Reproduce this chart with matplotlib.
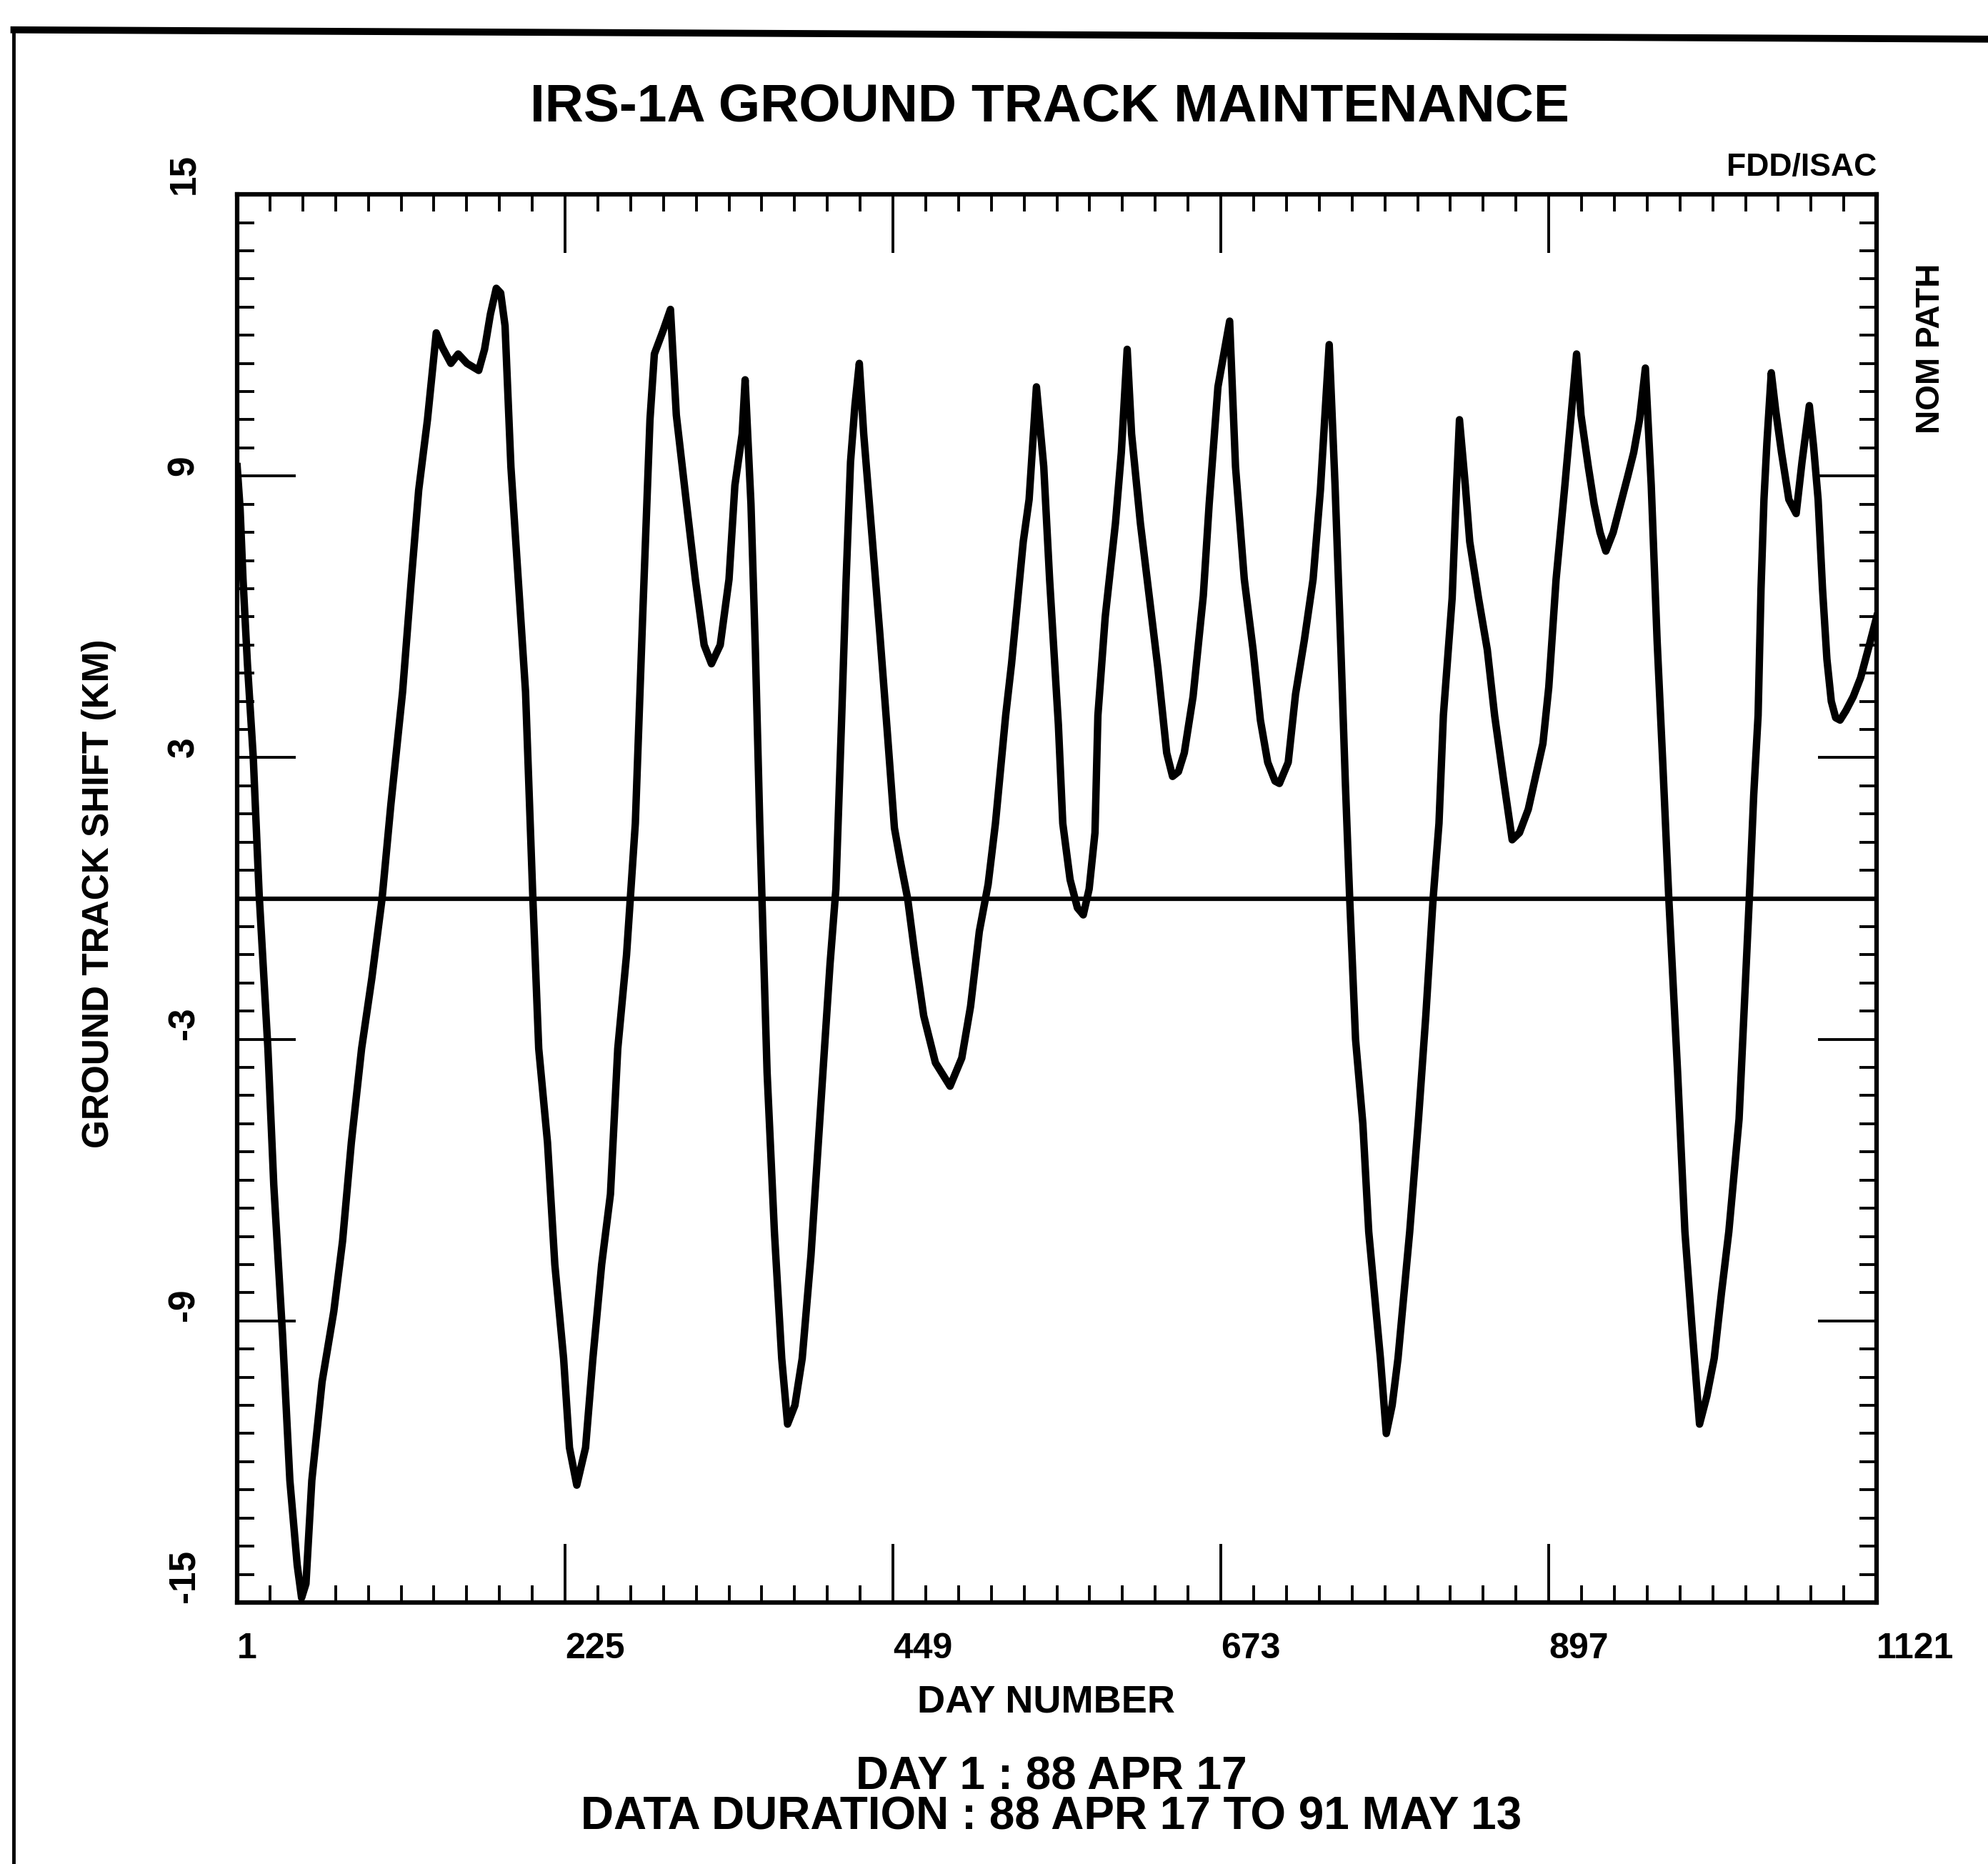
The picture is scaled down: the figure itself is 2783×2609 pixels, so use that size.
import numpy as np
import matplotlib
matplotlib.use("Agg")
import matplotlib.pyplot as plt
from matplotlib.lines import Line2D
from matplotlib.ticker import FixedLocator

plt.rcParams['font.family'] = ['Liberation Sans', 'DejaVu Sans']
plt.rcParams['font.weight'] = 'bold'
plt.rcParams['axes.unicode_minus'] = False

# ground track shift (km), by day number
day = [1, 3, 5, 8, 12, 16, 22, 26, 32, 37, 42, 45, 48, 52, 59, 67, 73, 79, 86, 93,
       100, 106, 114, 120, 125, 131, 137, 141, 147, 152, 158, 166, 170, 174, 178, 181, 184, 186, 188, 193,
       198, 203, 207, 213, 218, 224, 228, 233, 239, 244, 250, 256, 261, 267, 273, 278, 283, 286, 292, 297,
       301, 308, 314, 320, 325, 331, 337, 341, 346, 348, 352, 355, 358, 363, 368, 373, 377, 382, 387, 393,
       398, 402, 406, 410, 414, 417, 420, 423, 426, 429, 435, 440, 445, 450, 454, 459, 464, 470, 478, 488,
       496, 502, 508, 514, 519, 526, 530, 534, 538, 542, 547, 552, 556, 562, 565, 570, 575, 579, 583, 587,
       589, 594, 601, 605, 609, 612, 618, 624, 630, 636, 640, 644, 648, 654, 661, 665, 671, 675, 679, 683,
       689, 695, 700, 705, 710, 713, 719, 724, 730, 736, 741, 747, 751, 755, 758, 761, 765, 770, 774, 782,
       786, 790, 794, 802, 808, 813, 818, 822, 825, 831, 834, 836, 840, 843, 849, 855, 860, 866, 872, 877,
       883, 888, 893, 897, 902, 908, 912, 916, 919, 924, 928, 932, 936, 941, 946, 951, 955, 959, 963, 967,
       971, 975, 979, 985, 990, 995, 1000, 1005, 1010, 1015, 1020, 1027, 1031, 1034, 1037, 1040, 1042, 1044, 1046, 1049,
       1052, 1056, 1061, 1066, 1070, 1075, 1078, 1081, 1084, 1087, 1090, 1093, 1096, 1100, 1105, 1110, 1116, 1121]
shift = [9.2, 8.3, 6.8, 5.0, 3.0, 0.1, -3.2, -6.1, -9.3, -12.4, -14.2, -14.9, -14.6, -12.4, -10.3, -8.8, -7.3, -5.2, -3.2, -1.7,
         0.0, 2.0, 4.4, 6.8, 8.7, 10.2, 12.05, 11.75, 11.4, 11.6, 11.4, 11.25, 11.7, 12.45, 13.0, 12.9, 12.2, 10.7, 9.2, 6.8,
         4.4, 0.0, -3.2, -5.2, -7.8, -9.8, -11.7, -12.5, -11.7, -9.8, -7.8, -6.3, -3.2, -1.2, 1.6, 6.0, 10.2, 11.6, 12.1, 12.55,
         10.3, 8.4, 6.8, 5.4, 5.0, 5.4, 6.8, 8.8, 9.9, 11.05, 8.4, 5.3, 1.6, -3.7, -7.1, -9.8, -11.2, -10.8, -9.8, -7.6,
         -5.2, -3.3, -1.4, 0.2, 3.9, 6.8, 9.3, 10.5, 11.4, 9.9, 7.6, 5.65, 3.6, 1.5, 0.8, 0.0, -1.2, -2.5, -3.5, -4.0,
         -3.4, -2.3, -0.7, 0.3, 1.6, 3.9, 5.0, 6.3, 7.6, 8.5, 10.9, 9.2, 6.8, 3.7, 1.6, 0.4, -0.2, -0.35, 0.2, 1.4,
         3.9, 6.0, 8.0, 9.5, 11.7, 9.9, 8.0, 6.45, 4.9, 3.1, 2.6, 2.7, 3.1, 4.3, 6.45, 8.4, 10.9, 11.6, 12.3, 9.2,
         6.8, 5.3, 3.8, 2.9, 2.5, 2.45, 2.9, 4.35, 5.5, 6.8, 8.7, 11.8, 8.8, 5.3, 2.5, 0.0, -3.0, -4.8, -7.1, -9.8,
         -11.4, -10.8, -9.8, -7.1, -4.7, -2.5, 0.0, 1.6, 3.9, 6.4, 8.8, 10.2, 8.8, 7.6, 6.4, 5.3, 3.9, 2.55, 1.25, 1.4,
         1.9, 2.6, 3.3, 4.5, 6.8, 8.8, 10.2, 11.6, 10.3, 9.2, 8.4, 7.8, 7.4, 7.8, 8.4, 9.0, 9.5, 10.2, 11.3, 8.8,
         5.5, 2.8, 0.0, -3.7, -7.1, -9.2, -11.2, -10.6, -9.8, -8.4, -7.1, -4.7, -2.0, 0.0, 2.2, 3.9, 6.6, 8.5, 9.7, 11.2,
         10.4, 9.5, 8.5, 8.2, 9.3, 10.5, 9.6, 8.5, 6.6, 5.1, 4.2, 3.85, 3.8, 4.0, 4.3, 4.7, 5.4, 6.0]

x_ticks = [1, 225, 449, 673, 897, 1121]
y_ticks = [-15, -9, -3, 3, 9, 15]

fig = plt.figure(figsize=(27.83, 26.09), dpi=100)
ax = fig.add_axes([0.1193, 0.1403, 0.8247, 0.7554])

ax.plot(day, shift, color='black', lw=7.5, solid_joinstyle='round')
ax.axhline(0, color='black', lw=4.5)

ax.set_xlim(1, 1121)
ax.set_ylim(-15, 15)
ax.set_xticks(x_ticks)
ax.set_yticks(y_ticks)
ax.xaxis.set_minor_locator(FixedLocator(np.arange(1, 1122, 22.4)))
ax.yaxis.set_minor_locator(FixedLocator(np.arange(-15, 15.01, 0.6)))
ax.tick_params(which='both', direction='in', top=True, right=True, color='black')
ax.tick_params(which='major', length=59, width=2.8)
ax.tick_params(which='minor', length=17, width=2.8)
ax.tick_params(axis='x', which='major', pad=30, labelsize=36)
ax.tick_params(axis='y', which='major', pad=36, labelsize=37)
for lab in ax.get_xticklabels():
    lab.set_horizontalalignment('left')
for lab in ax.get_yticklabels():
    lab.set_rotation(90)
    lab.set_verticalalignment('bottom')
for sp in ax.spines.values():
    sp.set_linewidth(4.5)

fig.text(0.528, 0.9425, 'IRS-1A GROUND TRACK MAINTENANCE', ha='center', va='center', fontsize=54)
fig.text(0.944, 0.9103, 'FDD/ISAC', ha='right', va='center', fontsize=32)
fig.text(0.9713, 0.813, 'NOM PATH', ha='center', va='center', rotation=90, fontsize=33)
fig.text(0.0496, 0.5205, 'GROUND TRACK SHIFT (KM)', ha='center', va='center', rotation=90, fontsize=37)
fig.text(0.5264, 0.087, 'DAY NUMBER', ha='center', va='center', fontsize=39)
fig.text(0.529, 0.0465, 'DAY 1 : 88 APR 17', ha='center', va='center', fontsize=46)
fig.text(0.5286, 0.025, 'DATA DURATION : 88 APR 17 TO 91 MAY 13', ha='center', va='center', fontsize=46)

# scanned page border (top and left edges)
fig.add_artist(Line2D([0.007, 1.0], [0.984, 0.979], transform=fig.transFigure, color='black', lw=7))
fig.add_artist(Line2D([0.007, 0.007], [0.984, 0.0], transform=fig.transFigure, color='black', lw=3.5))

fig.savefig('out.png', dpi=100)
